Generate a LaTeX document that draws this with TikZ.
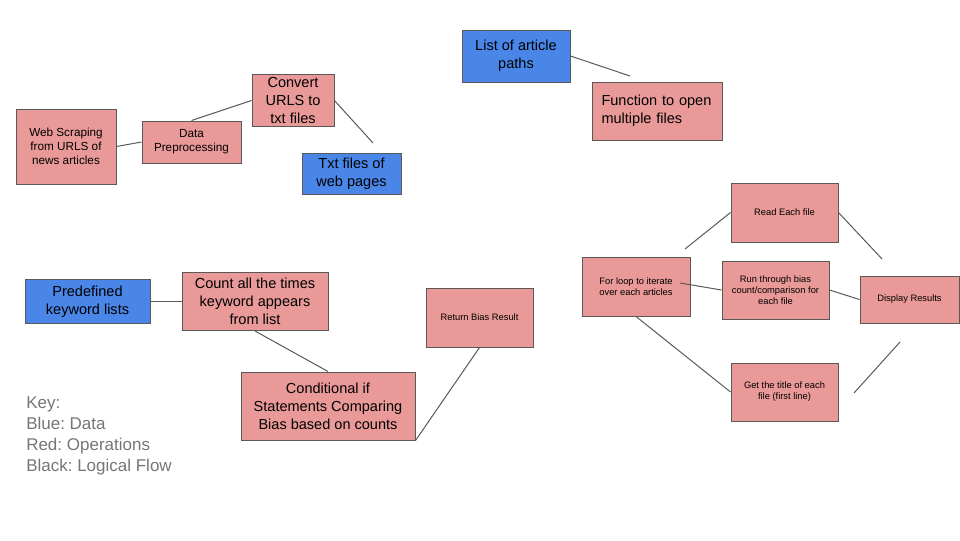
\documentclass[tikz,border=0pt]{standalone}
\usepackage{fontspec}
\setmainfont{Liberation Sans}
\usetikzlibrary{positioning}
\frenchspacing
\definecolor{opfill}{HTML}{EA9999}
\definecolor{datafill}{HTML}{4A86E8}
\definecolor{edge}{HTML}{595959}
\definecolor{keygray}{HTML}{757575}
\newcommand{\bigtxt}{\fontsize{10.9}{13.5}\selectfont}
\newcommand{\midtxt}{\fontsize{8.8}{10.5}\selectfont}
\newcommand{\smalltxt}{\fontsize{7}{8.25}\selectfont}
\tikzset{
  opbox/.style={draw=edge, fill=opfill, line width=0.75pt, align=center, inner sep=2pt},
  databox/.style={draw=edge, fill=datafill, line width=0.75pt, align=center, inner sep=2pt},
  flow/.style={draw=edge, line width=0.75pt}
}
\begin{document}
\begin{tikzpicture}[x=0.75pt, y=-0.75pt]
  \useasboundingbox (0,0) rectangle (960,540);
  % Scraping chain
  \node[opbox, minimum width=75pt, minimum height=56.25pt, font=\midtxt] (web)
        at (66,146.5) {Web Scraping\\from URLS of\\news articles};
  \node[opbox, minimum width=74.25pt, minimum height=31.5pt, font=\midtxt] (prep)
        at (191.5,142) {Data\\Preprocessing};
  \node[opbox, minimum width=61.5pt, minimum height=36.75pt, font=\bigtxt] (convert)
        at (293,100.5) {Convert\\URLS to\\txt files};
  \node[databox, minimum width=74.25pt, minimum height=30.75pt, font=\bigtxt] (txt)
        at (351.5,173.5) {Txt files of\\web pages};
  \coordinate (txtend) at (373,143);
  % Article paths
  \node[databox, minimum width=81pt, minimum height=39pt, font=\bigtxt] (paths)
        at (516,56) {List of article\\paths};
  \node[opbox, minimum width=97.5pt, minimum height=43.5pt, font=\bigtxt,
        align=left, text width=84pt] (openfn)
        at (657.5,111) {Function to open\\multiple files};
  \coordinate (pathsend) at (630,76);
  % Loop over files
  \node[opbox, minimum width=81pt, minimum height=44.25pt, font=\smalltxt] (loop)
        at (636,286.5) {For loop to iterate\\over each articles};
  \node[opbox, minimum width=80.25pt, minimum height=44.25pt, font=\smalltxt] (readf)
        at (784.5,212.5) {Read Each file};
  \node[opbox, minimum width=80.25pt, minimum height=43.5pt, font=\smalltxt] (runbias)
        at (775.5,290) {Run through bias\\count/comparison for\\each file};
  \node[opbox, minimum width=74.25pt, minimum height=35.25pt, font=\smalltxt] (display)
        at (909.5,299.5) {Display Results};
  \node[opbox, minimum width=80.25pt, minimum height=43.5pt, font=\smalltxt] (title)
        at (784.5,392) {Get the title of each\\file (first line)};
  \coordinate (loopup) at (685,249);
  \coordinate (loopin) at (680,283);
  \coordinate (readend) at (882,259);
  \coordinate (dispa) at (854,393);
  \coordinate (dispb) at (900,342);
  % Keyword counting
  \node[databox, minimum width=93.75pt, minimum height=33pt, font=\bigtxt] (keywords)
        at (87.5,301.5) {Predefined\\keyword lists};
  \node[opbox, minimum width=109.5pt, minimum height=43.5pt, font=\bigtxt] (countkw)
        at (255,301.5) {Count all the times\\keyword appears\\from list};
  \node[opbox, minimum width=130.5pt, minimum height=51pt, font=\bigtxt] (cond)
        at (328,406) {Conditional if\\Statements Comparing\\Bias based on counts};
  \node[opbox, minimum width=80.25pt, minimum height=44.25pt, font=\smalltxt] (ret)
        at (479.5,317.5) {Return Bias Result};
  % Key
  \node[anchor=north west, inner sep=0pt, align=left, text=keygray,
        font=\fontsize{12.75}{15.75}\selectfont] (key)
        at (26,397) {Key:\\Blue: Data\\Red: Operations\\Black: Logical Flow};
  % Lines
  \draw[flow] (web.east) -- (prep.west);
  \draw[flow] (prep.north) -- (convert.west);
  \draw[flow] (convert.east) -- (txtend);
  \draw[flow] (paths.east) -- (pathsend);
  \draw[flow] (loopup) -- (readf.west);
  \draw[flow] (readf.east) -- (readend);
  \draw[flow] (loopin) -- (runbias.west);
  \draw[flow] (runbias.east) -- (display.west);
  \draw[flow] (loop.south) -- (title.west);
  \draw[flow] (dispa) -- (dispb);
  \draw[flow] (keywords.east) -- (countkw.west);
  \draw[flow] (countkw.south) -- (cond.north);
  \draw[flow] (cond.south east) -- (ret.south);
\end{tikzpicture}
\end{document}
